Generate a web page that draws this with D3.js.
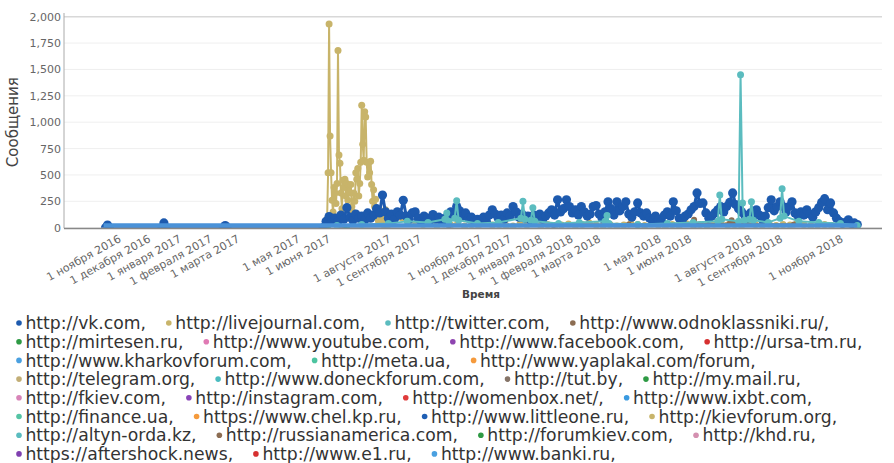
<!DOCTYPE html>
<html><head><meta charset="utf-8">
<script src="https://cdn.jsdelivr.net/npm/d3@7"></script>
<style>body{margin:0;background:#fff}svg{display:block}</style>
</head><body><svg id="c" width="894" height="463"></svg>
<script>
const parse = d3.timeParse("%Y-%m-%d");

const yTicks = [0,250,500,750,1000,1250,1500,1750,2000];
const xTickDates = ["2016-11-01","2016-12-01","2017-01-01","2017-02-01","2017-03-01","2017-05-01","2017-06-01","2017-08-01","2017-09-01","2017-11-01","2017-12-01","2018-01-01","2018-02-01","2018-03-01","2018-05-01","2018-06-01","2018-08-01","2018-09-01","2018-11-01"];
const xTickLabels = ["1 ноября 2016","1 декабря 2016","1 января 2017","1 февраля 2017","1 марта 2017","1 мая 2017","1 июня 2017","1 августа 2017","1 сентября 2017","1 ноября 2017","1 декабря 2017","1 января 2018","1 февраля 2018","1 марта 2018","1 мая 2018","1 июня 2018","1 августа 2018","1 сентября 2018","1 ноября 2018"];

// vk.com
const vkEarlyDates = ["2016-10-19","2016-10-21","2016-10-23","2016-12-15","2016-12-17","2016-12-19","2017-02-15","2017-02-17","2017-02-19","2017-05-27"];
const vkEarlyValues = [0,25,0,0,45,0,0,20,0,0];
const vkStart = "2017-05-30", vkStepDays = 3;
const vkValues = [60,105,70,90,60,120,80,190,100,70,
130,90,110,70,140,90,120,180,140,310,
150,90,130,80,150,120,260,110,80,140,
150,90,60,110,90,70,125,80,100,60,
90,70,150,120,200,160,110,140,90,100,
60,80,70,100,60,120,170,130,90,120,
80,140,110,200,150,100,130,90,110,70,
120,90,130,80,110,140,170,120,265,150,
180,265,200,140,170,120,200,150,110,130,
200,210,130,90,150,245,180,120,245,160,
200,245,130,100,150,235,140,110,140,90,
70,110,80,60,120,150,110,245,160,90,
70,110,130,170,200,330,230,235,140,90,
110,140,170,200,150,200,240,330,220,180,
150,120,90,140,110,170,120,80,110,190,
265,160,200,245,200,150,200,245,140,110,
150,120,170,130,100,150,190,240,275,170,
235,140,90,60,40,50,75,40,45,30];

// livejournal.com
const ljStart = "2017-05-30", ljStepDays = 1;
const ljValues = [30,80,520,1930,870,520,260,150,380,330,
230,420,1680,690,610,330,180,450,380,460,
300,420,260,400,330,410,200,150,330,250,
520,460,560,300,420,620,1160,790,640,1100,
1050,620,480,620,520,630,410,250,360,200,
270,120,90,60,110,40,150,80,30,60,170,40,20];
const ljLateStart = "2017-08-08", ljLateStepDays = 7;
const ljLateValues = [120,90,60,40,30,50,20,35,25,40,15,30,20,45,25,30,20,15,35,25,40,20,30,15,25,35,20,30,45,25,20,30,15,25,40,30,20,35,25,15,30,20,40,25,30,20,35,50,25,30,20,40,30,25,35,20,30,25,40,30,20,25,30,20];

// twitter.com
const twDates = ["2017-06-10","2017-07-05","2017-08-01","2017-08-20","2017-09-10","2017-09-27","2017-09-29","2017-10-01","2017-10-07","2017-10-09","2017-10-11","2017-10-30","2017-11-20","2017-12-13","2017-12-15","2017-12-17","2017-12-23","2017-12-25","2017-12-27","2018-01-20","2018-02-10","2018-03-08","2018-03-10","2018-03-12","2018-04-10","2018-05-10","2018-06-05","2018-06-30","2018-07-02","2018-07-04","2018-07-21","2018-07-23","2018-07-25","2018-07-27","2018-08-01","2018-08-03","2018-08-05","2018-08-20","2018-09-01","2018-09-03","2018-09-05","2018-09-20","2018-10-10","2018-11-01","2018-11-18"];
const twValues = [20,30,40,60,50,80,140,60,90,255,70,40,50,90,250,80,70,190,60,40,50,60,115,40,30,40,50,60,310,80,60,1450,235,70,80,245,70,50,90,370,110,60,50,40,20];

// odnoklassniki.ru
const okDates = ["2017-06-15","2017-10-01","2018-01-15","2018-04-01","2018-06-04","2018-06-06","2018-06-08","2018-07-12","2018-07-14","2018-07-16","2018-09-15","2018-11-15"];
const okValues = [10,20,25,30,40,75,30,40,70,35,30,10];

// mirtesen.ru
const mtDates = ["2017-06-01","2017-06-05","2017-06-12","2017-06-20"];
const mtValues = [0,40,30,0];

// banki.ru (zero baseline band)
const bankiDates = ["2016-10-17","2018-11-18"];
const bankiValues = [0,0];

const legendNames = ["http://vk.com,","http://livejournal.com,","http://twitter.com,","http://www.odnoklassniki.ru/,",
"http://mirtesen.ru,","http://www.youtube.com,","http://www.facebook.com,","http://ursa-tm.ru,",
"http://www.kharkovforum.com,","http://meta.ua,","http://www.yaplakal.com/forum,",
"http://telegram.org,","http://www.doneckforum.com,","http://tut.by,","http://my.mail.ru,",
"http://fkiev.com,","http://instagram.com,","http://womenbox.net/,","http://www.ixbt.com,",
"http://finance.ua,","https://www.chel.kp.ru,","http://www.littleone.ru,","http://kievforum.org,",
"http://altyn-orda.kz,","http://russianamerica.com,","http://forumkiev.com,","http://khd.ru,",
"https://aftershock.news,","http://www.e1.ru,","http://www.banki.ru,"];
const legendColors = ["#1d5aae","#c8b46a","#5bbcbf","#8c6d52",
"#2e9a44","#e07ab4","#8e44b0","#d63030",
"#4aa0e0","#4cc4a0","#f59a3c",
"#c2ae76","#4bbcc0","#857468","#2e9a44",
"#d884b8","#8a44b8","#e03c3c","#3a9ae0",
"#55c4a4","#f59a3c","#1f5fb4","#c8b46a",
"#5bbcbf","#8c6d52","#2e9a44","#d490b0",
"#8040b0","#d63030","#4aa0e0"];
const legendRowSizes = [4,4,3,4,4,4,4,3];

// ---------- build series ----------
function stepSeries(start, step, vals){
  const s = parse(start);
  return vals.map((v,i)=>({date: d3.timeDay.offset(s, i*step), value: v}));
}
function listSeries(dates, vals){ return dates.map((d,i)=>({date: parse(d), value: vals[i]})); }

const vkData = listSeries(vkEarlyDates, vkEarlyValues).concat(stepSeries(vkStart, vkStepDays, vkValues));
const ljData = stepSeries(ljStart, ljStepDays, ljValues).concat(stepSeries(ljLateStart, ljLateStepDays, ljLateValues));
const twData = listSeries(twDates, twValues);
const okData = listSeries(okDates, okValues);
const mtData = listSeries(mtDates, mtValues);
const bankiData = listSeries(bankiDates, bankiValues);

const svg = d3.select("#c");
const L = 64, R = 882, T = 16.7, B = 227.7;
const x = d3.scaleTime().domain([new Date(2016,8,7), new Date(2018,11,13)]).range([L, R]);
const y = d3.scaleLinear().domain([0, 2000]).range([B, T]);

svg.append("defs").append("clipPath").attr("id","plot")
  .append("rect").attr("x",L).attr("y",0).attr("width",R-L).attr("height",B);

// grid
svg.append("g").selectAll("line").data(yTicks).join("line")
  .attr("x1",L).attr("x2",R).attr("y1",d=>y(d)).attr("y2",d=>y(d))
  .attr("stroke",d=>d===2000?"#d8d8d8":"#efefef").attr("stroke-width",d=>d===2000?1.5:1);

// y axis
const gy = svg.append("g").attr("transform",`translate(${L},0)`)
  .call(d3.axisLeft(y).tickValues(yTicks).tickSize(0).tickPadding(3).tickFormat(d3.format(",")));
gy.select(".domain").remove();
gy.selectAll("text").attr("font-family","DejaVu Sans").attr("font-size",11).attr("fill","#666");
svg.append("line").attr("x1",L).attr("x2",L).attr("y1",13).attr("y2",B+0.5).attr("stroke","#aaa").attr("stroke-width",1);

svg.append("text").attr("transform",`translate(18,${(T+B)/2}) rotate(-90)`)
  .attr("text-anchor","middle").attr("font-family","DejaVu Sans").attr("font-size",15).attr("fill","#444")
  .text("Сообщения");

// series
const line = d3.line().x(d=>x(d.date)).y(d=>y(d.value));
const plot = svg.append("g").attr("clip-path","url(#plot)");
function drawSeries(data, color, r, sw){
  plot.append("path").datum(data).attr("d",line).attr("fill","none").attr("stroke",color).attr("stroke-width",sw).attr("stroke-linejoin","round");
  plot.append("g").selectAll("circle").data(data).join("circle")
    .attr("cx",d=>x(d.date)).attr("cy",d=>y(d.value)).attr("r",r).attr("fill",color);
}
drawSeries(ljData, legendColors[1], 3.5, 2);
drawSeries(okData, legendColors[3], 3, 2);
drawSeries(mtData, legendColors[4], 3, 2);
drawSeries(vkData, legendColors[0], 4.6, 3);
drawSeries(twData, legendColors[2], 3.5, 2);
plot.append("path").datum(bankiData).attr("d",line).attr("fill","none").attr("stroke","#4a92d8").attr("stroke-width",9);

// x axis
svg.append("line").attr("x1",L).attr("x2",R).attr("y1",B+0.8).attr("y2",B+0.8).attr("stroke","#888").attr("stroke-width",1.3);
const gx = svg.append("g").attr("transform",`translate(0,${B})`)
  .call(d3.axisBottom(x).tickValues(xTickDates.map(parse)).tickSize(0).tickFormat((d,i)=>xTickLabels[i]));
gx.select(".domain").remove();
gx.selectAll("text").attr("y",0).attr("dy","0.35em")
  .attr("transform","translate(1,10) rotate(-29)").style("text-anchor","end")
  .attr("font-family","DejaVu Sans").attr("font-size",11).attr("fill","#666");

svg.append("text").attr("x",481).attr("y",298).attr("text-anchor","middle")
  .attr("font-family","DejaVu Sans").attr("font-size",10.5).attr("font-weight","bold").attr("fill","#444").text("Время");

// legend
const lg = svg.append("g");
const items = legendNames.map((n,i)=>{
  const g = lg.append("g");
  const c = g.append("circle").attr("r",2.8).attr("fill",legendColors[i]);
  const t = g.append("text").attr("font-family","DejaVu Sans").attr("fill","#333").text(n);
  return {g,c,t};
});
function measure(fs){
  items.forEach(it=>it.t.attr("font-size",fs));
  return items.map(it=>it.t.node().getComputedTextLength());
}
const baseFs = 14, gapEm = 1.15, dotEm = 0.55;
let w = measure(baseFs);
const row1 = d3.sum(w.slice(0,4)) + 4*dotEm*baseFs + 3*gapEm*baseFs;
const fs = baseFs * (830-16) / row1;
w = measure(fs);
let idx = 0;
legendRowSizes.forEach((n,r)=>{
  let cx = 16;
  const cy = 323 + r*18.7;
  for(let k=0;k<n;k++,idx++){
    const it = items[idx];
    it.c.attr("cx",cx+3).attr("cy",cy);
    it.t.attr("x",cx+dotEm*fs).attr("y",cy).attr("dy","0.36em");
    cx += dotEm*fs + w[idx] + gapEm*fs;
  }
});
</script></body></html>
